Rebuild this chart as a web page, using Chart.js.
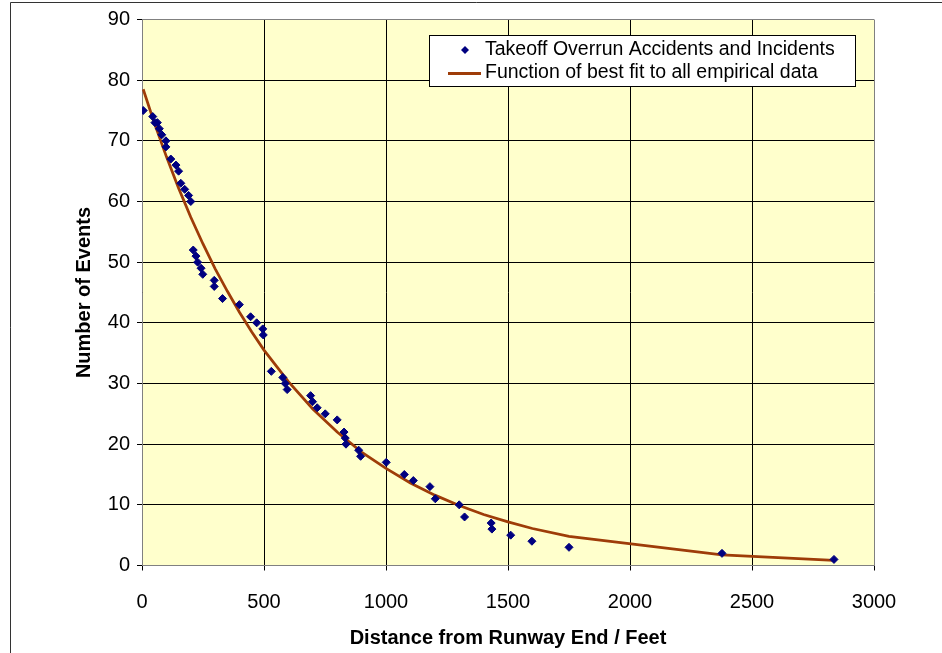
<!DOCTYPE html>
<html>
<head>
<meta charset="utf-8">
<script src="https://cdn.jsdelivr.net/npm/chart.js@4/dist/chart.umd.min.js"></script>
<style>
html,body{margin:0;padding:0;background:#fff;}
#wrap{position:relative;width:942px;height:653px;}
</style>
</head>
<body>
<div id="wrap"><canvas id="c" width="942" height="653"></canvas></div>
<script>
// ---- data ----
const distanceFeet = [5, 44, 53, 63, 71, 81, 98, 98, 118, 139, 150, 159, 175, 191, 200,
  210, 221, 228, 242, 249, 296, 296, 330, 399, 445, 470, 495, 497, 530, 577, 587, 595,
  691, 699, 718, 751, 800, 828, 833, 836, 888, 896, 1001, 1075, 1112, 1180, 1202,
  1300, 1322, 1431, 1434, 1511, 1598, 1750, 2377, 2836];
const numberOfEvents = [75, 74, 73, 73, 72, 71, 70, 69, 67, 66, 65, 63, 62, 61, 60,
  52, 51, 50, 49, 48, 47, 46, 44, 43, 41, 40, 39, 38, 32, 31, 30, 29,
  28, 27, 26, 25, 24, 22, 21, 20, 19, 18, 17, 15, 14, 13, 11,
  10, 8, 7, 6, 5, 4, 3, 2, 1];
const fitDistance = [5, 50, 100, 150, 200, 250, 300, 350, 400, 450, 500, 600, 700, 800,
  900, 1000, 1100, 1200, 1300, 1400, 1500, 1600, 1750, 2377, 2836];
const fitEvents = [78.5, 73.0, 67.4, 62.2, 57.4, 53.0, 48.9, 45.2, 41.7, 38.5, 35.5, 30.3,
  25.8, 22.0, 18.7, 16.0, 13.6, 11.6, 9.9, 8.4, 7.2, 6.1, 4.8, 1.76, 0.85];
const xTickValues = [0, 500, 1000, 1500, 2000, 2500, 3000];
const yTickValues = [0, 10, 20, 30, 40, 50, 60, 70, 80, 90];
const seriesLabels = ['Takeoff Overrun Accidents and Incidents', 'Function of best fit to all empirical data'];
const xTitle = 'Distance from Runway End / Feet';
const yTitle = 'Number of Events';

const FONT = "'Liberation Sans', Arial, sans-serif";
const POINT_COLOR = '#000080';
const LINE_COLOR = '#9E3C08';

Chart.defaults.font.family = FONT;
Chart.defaults.color = '#000';

const backgroundPlugin = {
  id: 'bg',
  beforeDraw(chart) {
    const ctx = chart.ctx, a = chart.chartArea;
    ctx.save();
    ctx.fillStyle = '#fff';
    ctx.fillRect(0, 0, chart.width, chart.height);
    ctx.strokeStyle = '#333';
    ctx.lineWidth = 1;
    ctx.beginPath();
    ctx.moveTo(10.5, chart.height);
    ctx.lineTo(10.5, 2.5);
    ctx.lineTo(chart.width, 2.5);
    ctx.stroke();
    ctx.fillStyle = '#FFFFCC';
    ctx.fillRect(a.left, a.top, a.right - a.left, a.bottom - a.top);
    ctx.restore();
  }
};

const legendPlugin = {
  id: 'boxLegend',
  afterDraw(chart) {
    const ctx = chart.ctx;
    const ds = chart.data.datasets;
    const bx = 429.5, by = 35.5, bw = 426, bh = 51;
    ctx.save();
    ctx.fillStyle = '#fff';
    ctx.fillRect(bx, by, bw, bh);
    ctx.strokeStyle = '#000';
    ctx.lineWidth = 1;
    ctx.strokeRect(bx, by, bw, bh);
    // row 1 : marker
    ctx.fillStyle = POINT_COLOR;
    ctx.beginPath();
    ctx.moveTo(465, 46); ctx.lineTo(469, 50); ctx.lineTo(465, 54); ctx.lineTo(461, 50); ctx.closePath();
    ctx.fill();
    // row 2 : line
    ctx.strokeStyle = LINE_COLOR;
    ctx.lineWidth = 3;
    ctx.beginPath();
    ctx.moveTo(448, 73.5); ctx.lineTo(481, 73.5);
    ctx.stroke();
    ctx.fillStyle = '#000';
    ctx.font = '19.5px ' + FONT;
    ctx.textBaseline = 'middle';
    ctx.textAlign = 'left';
    ctx.fillText(ds[0].label, 485, 50);
    ctx.fillText(ds[1].label, 485, 73);
    ctx.restore();
  }
};

const edgeGrid = (edgeValue) => (c) => (c.tick && c.tick.value === edgeValue) ? '#808080' : '#000';

new Chart(document.getElementById('c').getContext('2d'), {
  type: 'scatter',
  data: {
    datasets: [
      {
        label: seriesLabels[0],
        data: distanceFeet.map((x, i) => ({x: x, y: numberOfEvents[i]})),
        pointStyle: 'rectRot',
        pointRadius: 4,
        pointBorderWidth: 1,
        backgroundColor: POINT_COLOR,
        borderColor: POINT_COLOR,
        showLine: false,
        order: 0
      },
      {
        label: seriesLabels[1],
        data: fitDistance.map((x, i) => ({x: x, y: fitEvents[i]})),
        showLine: true,
        pointRadius: 0,
        borderColor: LINE_COLOR,
        backgroundColor: LINE_COLOR,
        borderWidth: 2.75,
        tension: 0,
        order: 1
      }
    ]
  },
  options: {
    responsive: false,
    animation: false,
    devicePixelRatio: 1,
    layout: {padding: {left: 0, right: 68, top: 19.5, bottom: 0}},
    plugins: {legend: {display: false}, tooltip: {enabled: false}},
    scales: {
      x: {
        type: 'linear', min: 0, max: 3000,
        afterBuildTicks: (s) => { s.ticks = xTickValues.map(v => ({value: v})); },
        afterFit: (s) => { s.height = 87.5; },
        ticks: {font: {size: 20}, padding: 20, maxRotation: 0, autoSkip: false, color: '#000',
          callback: (v) => String(v)},
        grid: {color: edgeGrid(3000), tickColor: '#000', tickLength: 5, lineWidth: 1},
        border: {color: '#808080', width: 1},
        title: {display: true, text: xTitle, color: '#000',
          font: {size: 20, weight: 'bold', lineHeight: 1.2}, padding: {top: 0, bottom: 3}}
      },
      y: {
        type: 'linear', min: 0, max: 90,
        afterBuildTicks: (s) => { s.ticks = yTickValues.map(v => ({value: v})); },
        afterFit: (s) => { s.width = 142; },
        ticks: {font: {size: 20}, padding: 7, autoSkip: false, color: '#000',
          callback: (v) => String(v)},
        grid: {color: edgeGrid(90), tickColor: '#000', tickLength: 5, lineWidth: 1},
        border: {color: '#808080', width: 1},
        title: {display: true, text: yTitle, color: '#000',
          font: {size: 20, weight: 'bold', lineHeight: 1.2}, padding: {top: 72, bottom: 0}}
      }
    }
  },
  plugins: [backgroundPlugin, legendPlugin]
});
</script>
</body>
</html>
